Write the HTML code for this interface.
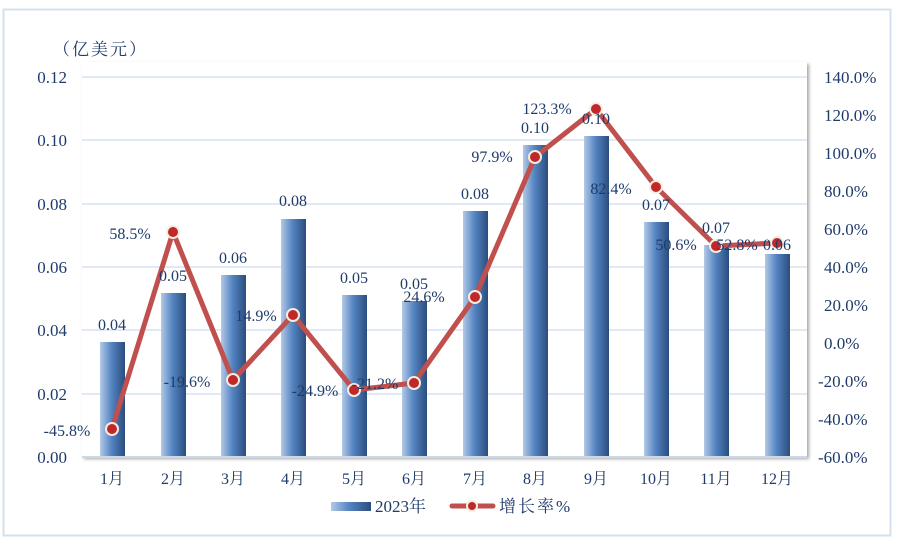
<!DOCTYPE html>
<html><head><meta charset="utf-8"><style>
html,body{margin:0;padding:0;background:#fff;}
svg text{font-family:"Liberation Serif","Noto Serif CJK SC",serif;fill:#1f3b6b;}
</style></head><body>
<svg width="904" height="544" viewBox="0 0 904 544" xmlns="http://www.w3.org/2000/svg">
<defs>
<linearGradient id="bg" x1="0" x2="1" y1="0" y2="0">
<stop offset="0" stop-color="#b3c9e6"/><stop offset="0.45" stop-color="#5585c2"/><stop offset="1" stop-color="#2a4d7e"/>
</linearGradient>
<filter id="sh" x="-5%" y="-5%" width="110%" height="110%"><feDropShadow dx="2" dy="2" stdDeviation="1.5" flood-color="#000" flood-opacity="0.35"/></filter>
</defs>
<rect x="3.5" y="9.5" width="887" height="526" fill="#fff" stroke="#d3e0f0" stroke-width="2"/>
<rect x="82" y="62" width="725" height="395" fill="#fff" filter="url(#sh)"/>
<g stroke="#d6e2f2" stroke-width="1.5">
<line x1="82" x2="807" y1="77" y2="77"/><line x1="82" x2="807" y1="140" y2="140"/>
<line x1="82" x2="807" y1="204" y2="204"/><line x1="82" x2="807" y1="267" y2="267"/>
<line x1="82" x2="807" y1="330" y2="330"/><line x1="82" x2="807" y1="394" y2="394"/>
</g>
<g fill="url(#bg)">
<rect x="100" y="342" width="25" height="115"/>
<rect x="161" y="293" width="25" height="164"/>
<rect x="221" y="275" width="25" height="182"/>
<rect x="281" y="219" width="25" height="238"/>
<rect x="342" y="295" width="25" height="162"/>
<rect x="402" y="301" width="25" height="156"/>
<rect x="463" y="211" width="25" height="246"/>
<rect x="523" y="145" width="25" height="312"/>
<rect x="584" y="136" width="25" height="321"/>
<rect x="644" y="222" width="25" height="235"/>
<rect x="704" y="245" width="25" height="212"/>
<rect x="765" y="254" width="25" height="203"/>
</g>
<line x1="82" x2="807" y1="457" y2="457" stroke="#c9d8ec" stroke-width="2"/>
<polyline points="112,429 173,232 233,380 293,315 354,390 414,383 475,297 535,157 596,109 656,187 716,246 777,243" fill="none" stroke="#c0504d" stroke-width="5" stroke-linejoin="round"/>
<g fill="#c0282a" stroke="#f3eee0" stroke-width="2">
<circle cx="112" cy="429" r="6"/><circle cx="173" cy="232" r="6"/><circle cx="233" cy="380" r="6"/>
<circle cx="293" cy="315" r="6"/><circle cx="354" cy="390" r="6"/><circle cx="414" cy="383" r="6"/>
<circle cx="475" cy="297" r="6"/><circle cx="535" cy="157" r="6"/><circle cx="596" cy="109" r="6"/>
<circle cx="656" cy="187" r="6"/><circle cx="716" cy="246" r="6"/><circle cx="777" cy="243" r="6"/>
</g>
<g font-size="16" text-anchor="middle">
<text x="112" y="330">0.04</text><text x="173" y="281">0.05</text><text x="233" y="263">0.06</text>
<text x="293" y="206">0.08</text><text x="354" y="283">0.05</text><text x="414" y="289">0.05</text>
<text x="475" y="199">0.08</text><text x="535" y="133">0.10</text><text x="596" y="124">0.10</text>
<text x="656" y="210">0.07</text><text x="716" y="233">0.07</text><text x="777" y="250">0.06</text>
<text x="67" y="436">-45.8%</text><text x="130" y="239">58.5%</text><text x="187" y="387">-19.6%</text>
<text x="256" y="321">14.9%</text><text x="315" y="396">-24.9%</text><text x="375" y="389">-21.2%</text>
<text x="424" y="302">24.6%</text><text x="492" y="162">97.9%</text><text x="547" y="114">123.3%</text>
<text x="611" y="194">82.4%</text><text x="676" y="250">50.6%</text><text x="737" y="250">52.8%</text>
</g>
<g font-size="17" text-anchor="end">
<text x="67" y="83">0.12</text><text x="67" y="146">0.10</text><text x="67" y="210">0.08</text>
<text x="67" y="273">0.06</text><text x="67" y="336">0.04</text><text x="67" y="400">0.02</text><text x="67" y="463">0.00</text>
</g>
<g font-size="17" text-anchor="start">
<text x="824" y="83">140.0%</text><text x="824" y="121">120.0%</text><text x="824" y="159">100.0%</text>
<text x="824" y="197">80.0%</text><text x="824" y="235">60.0%</text><text x="824" y="273">40.0%</text>
<text x="824" y="311">20.0%</text><text x="824" y="349">0.0%</text><text x="818" y="387">-20.0%</text>
<text x="818" y="425">-40.0%</text><text x="818" y="463">-60.0%</text>
</g>
<text x="53" y="55" font-size="17" letter-spacing="2">（亿美元）</text>
<g font-size="16" text-anchor="middle">
<text x="112" y="484">1月</text><text x="173" y="484">2月</text><text x="233" y="484">3月</text>
<text x="293" y="484">4月</text><text x="354" y="484">5月</text><text x="414" y="484">6月</text>
<text x="475" y="484">7月</text><text x="535" y="484">8月</text><text x="596" y="484">9月</text>
<text x="656" y="484">10月</text><text x="716" y="484">11月</text><text x="777" y="484">12月</text>
</g>
<rect x="331" y="502" width="40" height="9" fill="url(#bg)"/>
<text x="375" y="512" font-size="17">2023年</text>
<line x1="452" x2="493" y1="506" y2="506" stroke="#c0504d" stroke-width="5" stroke-linecap="round"/>
<circle cx="472" cy="506" r="5" fill="#c0282a" stroke="#f3eee0" stroke-width="2"/>
<text x="499" y="512" font-size="17" letter-spacing="2">增长率%</text>
</svg>
</body></html>
